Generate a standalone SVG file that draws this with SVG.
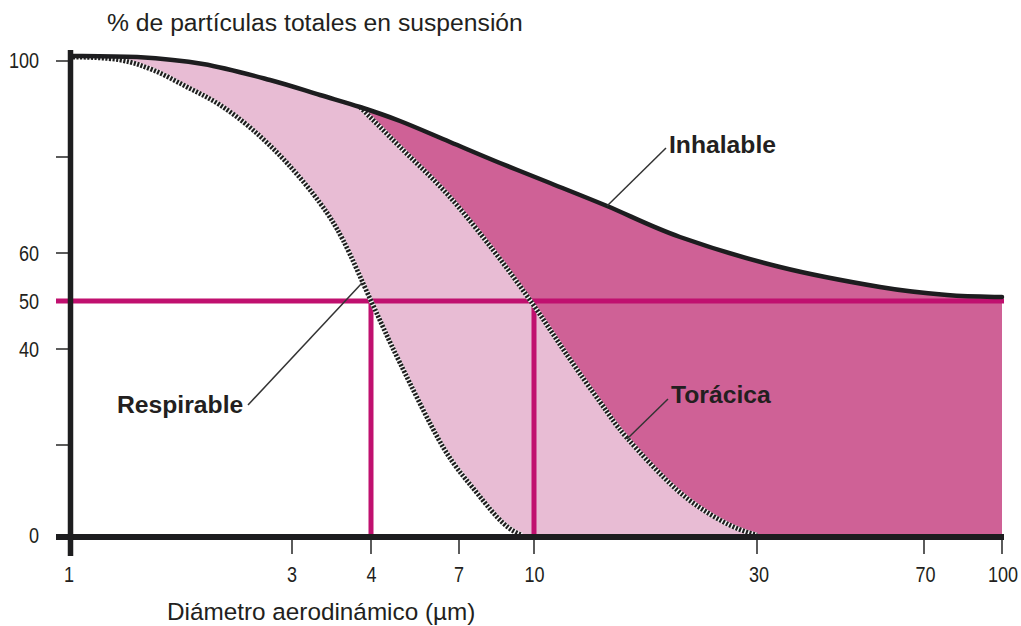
<svg xmlns="http://www.w3.org/2000/svg" width="1021" height="626" viewBox="0 0 1021 626">
<style>
.num{font-family:"Liberation Sans",Arial,sans-serif;font-size:22px;fill:#231f20}
.lab{font-family:"Liberation Sans",Arial,sans-serif;font-size:24.7px;font-weight:bold;fill:#231f20}
.ttl{font-family:"Liberation Sans",Arial,sans-serif;font-size:24.7px;fill:#231f20}
.dotbase{fill:none;stroke:#f4f4f4;stroke-width:4.6}
.dot{fill:none;stroke:#1e1e1e;stroke-width:4.8;stroke-dasharray:2.1 1.5}
.tick{stroke:#333;stroke-width:1.6}
.lead{stroke:#333;stroke-width:1.5;fill:none}
.mag{stroke:#c0106f;stroke-width:5;fill:none}
</style>
<rect width="1021" height="626" fill="#fff"/>
<g id="areas">
<path id="area-inhalable" fill="#cf6196" d="M73,56 C94.3,56.2 115.3,56.3 137,57 C158.7,58.3 180.8,60.2 203,64 C225.2,67.8 250.5,74.8 270,80 C289.5,85.2 305,90.5 320,95 C335,99.5 346.7,102.7 360,107 C373.3,111.3 385,115.2 400,121 C415,126.8 433.3,135 450,142 C466.7,149 483.3,156.2 500,163 C516.7,169.8 532.2,175.8 550,183 C567.8,190.2 585.3,197 607,206 C628.7,215 651.2,226.8 680,237 C708.8,247.2 746.7,258.7 780,267 C813.3,275.3 852.2,282.3 880,287 C907.8,291.7 926.7,293.3 947,295 C967.3,296.7 983.7,296.7 1002,297 L1002,537 L73,537 Z"/>
<path id="area-thoracic" fill="#e8bcd4" d="M73,56 C94.3,56.2 115.3,56.3 137,57 C158.7,58.3 180.8,60.2 203,64 C225.2,67.8 250.5,74.8 270,80 C289.5,85.2 305,90.5 320,95 C335,99.5 346.7,102.7 360,107 C373.3,120.3 385.3,132.3 400,147 C414.7,161.7 432.5,177.8 448,195 C463.5,212.2 479,232 493,250 C507,268 519.7,285.5 532,303 C544.3,320.5 555.7,338.5 567,355 C578.3,371.5 590,388.2 600,402 C610,415.8 614.2,423.3 627,438 C639.8,452.7 661.5,476.3 677,490 C692.5,503.7 706.7,512.5 720,520 C733.3,527.5 745.3,532.2 757,535 L757,537 L73,537 Z"/>
<path id="area-respirable" fill="#fff" d="M73,57 C88.7,57.2 106.7,57.7 120,60 C133.3,62.3 141.8,65.5 153,70 C164.2,74.5 175.8,81.2 187,87 C198.2,92.8 209,97.8 220,105 C231,112.2 241.8,120.3 253,130 C264.2,139.7 275.8,150.8 287,163 C298.2,175.2 310.7,190.2 320,203 C329.3,215.8 334.3,223.3 343,240 C351.7,256.7 362.5,282.5 372,303 C381.5,323.5 388.2,339 400,363 C411.8,387 430.2,425.3 443,447 C455.8,468.7 467,480.3 477,493 C487,505.7 495.5,516 503,523 C510.5,530 515.7,532.7 522,535 L522,537 L73,537 Z"/>
</g>
<g id="fifty-lines">
<line class="mag" x1="56" y1="301" x2="1004" y2="301"/>
<line class="mag" x1="371" y1="301" x2="371" y2="535"/>
<line class="mag" x1="534" y1="301" x2="534" y2="535"/>
</g>
<g id="curves">
<g id="respirable-curve">
<path class="dotbase" d="M73,57 C88.7,57.2 106.7,57.7 120,60 C133.3,62.3 141.8,65.5 153,70 C164.2,74.5 175.8,81.2 187,87 C198.2,92.8 209,97.8 220,105 C231,112.2 241.8,120.3 253,130 C264.2,139.7 275.8,150.8 287,163 C298.2,175.2 310.7,190.2 320,203 C329.3,215.8 334.3,223.3 343,240 C351.7,256.7 362.5,282.5 372,303 C381.5,323.5 388.2,339 400,363 C411.8,387 430.2,425.3 443,447 C455.8,468.7 467,480.3 477,493 C487,505.7 495.5,516 503,523 C510.5,530 515.7,532.7 522,535"/>
<path class="dot" d="M73,57 C88.7,57.2 106.7,57.7 120,60 C133.3,62.3 141.8,65.5 153,70 C164.2,74.5 175.8,81.2 187,87 C198.2,92.8 209,97.8 220,105 C231,112.2 241.8,120.3 253,130 C264.2,139.7 275.8,150.8 287,163 C298.2,175.2 310.7,190.2 320,203 C329.3,215.8 334.3,223.3 343,240 C351.7,256.7 362.5,282.5 372,303 C381.5,323.5 388.2,339 400,363 C411.8,387 430.2,425.3 443,447 C455.8,468.7 467,480.3 477,493 C487,505.7 495.5,516 503,523 C510.5,530 515.7,532.7 522,535"/>
</g>
<g id="thoracic-curve">
<path class="dotbase" d="M360,107 C373.3,120.3 385.3,132.3 400,147 C414.7,161.7 432.5,177.8 448,195 C463.5,212.2 479,232 493,250 C507,268 519.7,285.5 532,303 C544.3,320.5 555.7,338.5 567,355 C578.3,371.5 590,388.2 600,402 C610,415.8 614.2,423.3 627,438 C639.8,452.7 661.5,476.3 677,490 C692.5,503.7 706.7,512.5 720,520 C733.3,527.5 745.3,532.2 757,535"/>
<path class="dot" d="M360,107 C373.3,120.3 385.3,132.3 400,147 C414.7,161.7 432.5,177.8 448,195 C463.5,212.2 479,232 493,250 C507,268 519.7,285.5 532,303 C544.3,320.5 555.7,338.5 567,355 C578.3,371.5 590,388.2 600,402 C610,415.8 614.2,423.3 627,438 C639.8,452.7 661.5,476.3 677,490 C692.5,503.7 706.7,512.5 720,520 C733.3,527.5 745.3,532.2 757,535"/>
</g>
<path id="inhalable-curve" fill="none" stroke="#1d1d1f" stroke-width="4.5" stroke-linecap="round" d="M73,56 C94.3,56.2 115.3,56.3 137,57 C158.7,58.3 180.8,60.2 203,64 C225.2,67.8 250.5,74.8 270,80 C289.5,85.2 305,90.5 320,95 C335,99.5 346.7,102.7 360,107 C373.3,111.3 385,115.2 400,121 C415,126.8 433.3,135 450,142 C466.7,149 483.3,156.2 500,163 C516.7,169.8 532.2,175.8 550,183 C567.8,190.2 585.3,197 607,206 C628.7,215 651.2,226.8 680,237 C708.8,247.2 746.7,258.7 780,267 C813.3,275.3 852.2,282.3 880,287 C907.8,291.7 926.7,293.3 947,295 C967.3,296.7 983.7,296.7 1002,297"/>
</g>
<g id="leaders">
<line class="lead" x1="666" y1="148" x2="607" y2="206"/>
<line class="lead" x1="248" y1="405" x2="362" y2="283"/>
<line class="lead" x1="668" y1="399" x2="627" y2="439"/>
</g>
<g id="axes">
<g id="y-ticks">
<line class="tick" x1="56" y1="61" x2="69" y2="61"/>
<line class="tick" x1="56" y1="157" x2="69" y2="157"/>
<line class="tick" x1="56" y1="253" x2="69" y2="253"/>
<line class="tick" x1="56" y1="349" x2="69" y2="349"/>
<line class="tick" x1="56" y1="445" x2="69" y2="445"/>
</g>
<g id="x-ticks">
<line class="tick" x1="292" y1="539" x2="292" y2="554"/>
<line class="tick" x1="371" y1="539" x2="371" y2="554"/>
<line class="tick" x1="459" y1="539" x2="459" y2="554"/>
<line class="tick" x1="534" y1="539" x2="534" y2="554"/>
<line class="tick" x1="757" y1="539" x2="757" y2="554"/>
<line class="tick" x1="924" y1="539" x2="924" y2="554"/>
<line class="tick" x1="1002" y1="539" x2="1002" y2="554"/>
</g>
<line id="x-axis" x1="56" y1="537" x2="1004" y2="537" stroke="#1d1d1f" stroke-width="6"/>
<line id="y-axis" x1="70.5" y1="50" x2="70.5" y2="556" stroke="#1d1d1f" stroke-width="5.5"/>
</g>
<g id="y-labels">
<text class="num" text-anchor="end" transform="translate(39,68) scale(0.82,1)">100</text>
<text class="num" text-anchor="end" transform="translate(39,261) scale(0.82,1)">60</text>
<text class="num" text-anchor="end" transform="translate(39,309) scale(0.82,1)">50</text>
<text class="num" text-anchor="end" transform="translate(39,357) scale(0.82,1)">40</text>
<text class="num" text-anchor="end" transform="translate(39,543) scale(0.82,1)">0</text>
</g>
<g id="x-labels">
<text class="num" text-anchor="middle" transform="translate(69,582) scale(0.82,1)">1</text>
<text class="num" text-anchor="middle" transform="translate(292,582) scale(0.82,1)">3</text>
<text class="num" text-anchor="middle" transform="translate(371.5,582) scale(0.82,1)">4</text>
<text class="num" text-anchor="middle" transform="translate(459,582) scale(0.82,1)">7</text>
<text class="num" text-anchor="middle" transform="translate(534.5,582) scale(0.82,1)">10</text>
<text class="num" text-anchor="middle" transform="translate(759,582) scale(0.82,1)">30</text>
<text class="num" text-anchor="middle" transform="translate(925.5,582) scale(0.82,1)">70</text>
<text class="num" text-anchor="middle" transform="translate(1003,582) scale(0.82,1)">100</text>
</g>
<g id="titles">
<text class="ttl" x="107" y="31">% de partículas totales en suspensión</text>
<text class="ttl" x="167" y="620" style="font-size:24.3px">Diámetro aerodinámico (µm)</text>
</g>
<g id="curve-labels">
<text class="lab" x="669" y="153">Inhalable</text>
<text class="lab" x="117" y="413">Respirable</text>
<text class="lab" x="671" y="403">Torácica</text>
</g>
</svg>
